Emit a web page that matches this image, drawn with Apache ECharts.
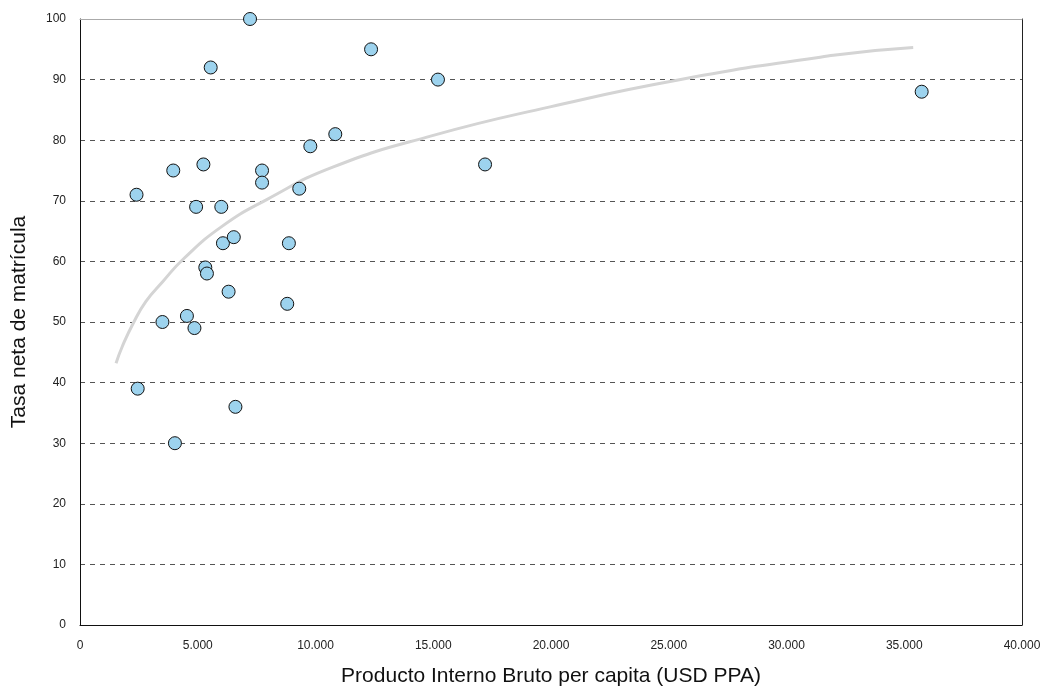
<!DOCTYPE html>
<html>
<head>
<meta charset="utf-8">
<script src="https://cdn.jsdelivr.net/npm/echarts@6/dist/echarts.min.js"></script>
<style>html,body{margin:0;padding:0;background:#fff}#c{width:1040px;height:690px}</style>
</head>
<body>
<div id="c"></div>
<script>
// GDP per capita (USD PPA) and net enrolment rate
const gdp = [2400, 2450, 3500, 3960, 4030, 4540, 4860, 4930, 5240, 5320, 5390, 5550, 6000, 6070, 6310, 6530, 6600, 7220, 7730, 7730, 8800, 8870, 9310, 9780, 10840, 12360, 15200, 17200, 35740];
const enrol = [71, 39, 50, 75, 30, 51, 49, 69, 76, 59, 58, 92, 69, 63, 55, 64, 36, 100, 75, 73, 53, 63, 72, 79, 81, 95, 90, 76, 88];
// trend curve
const trendX = [1530, 1800, 2260, 2800, 3500, 4390, 6000, 7930, 10760, 15000, 19960, 25340, 31990, 35380];
const trendY = [43.2, 46.0, 49.8, 53.4, 56.6, 60.4, 65.7, 70.2, 75.6, 80.8, 85.5, 89.9, 94.0, 95.3];
const yTicks = [0, 10, 20, 30, 40, 50, 60, 70, 80, 90, 100];

const fmt = v => String(v).replace(/\B(?=(\d{3})+(?!\d))/g, '.');
const tickFont = '"Liberation Sans", Arial, sans-serif';
const titleFont = '"Liberation Sans", Arial, sans-serif';

const chart = echarts.init(document.getElementById('c'), null, {renderer: 'canvas'});
const splitColors = yTicks.map((t, i) => (i === 0 || i === yTicks.length - 1) ? 'rgba(0,0,0,0)' : '#555');

chart.setOption({
  animation: false,
  backgroundColor: '#fff',
  grid: {left: 80, right: 18, top: 19, bottom: 65, containLabel: false, outerBoundsMode: 'none'},
  xAxis: [{
    type: 'value', min: 0, max: 40000, interval: 5000, position: 'bottom',
    name: 'Producto Interno Bruto per capita (USD PPA)', nameLocation: 'middle', nameGap: 41,
    nameTextStyle: {fontFamily: titleFont, fontSize: 21, color: '#111'},
    axisLine: {show: true, lineStyle: {color: '#111', width: 1}},
    axisTick: {show: false},
    axisLabel: {formatter: fmt, fontFamily: tickFont, fontSize: 12, color: '#222', margin: 15},
    splitLine: {show: false}
  }, {
    type: 'value', min: 0, max: 40000, interval: 5000, position: 'top',
    axisLine: {show: true, onZero: false, lineStyle: {color: '#aaa', width: 1}},
    axisTick: {show: false}, axisLabel: {show: false}, splitLine: {show: false}
  }],
  yAxis: [{
    type: 'value', min: 0, max: 100, interval: 10, position: 'left',
    name: 'Tasa neta de matrícula', nameLocation: 'middle', nameGap: 50,
    nameTextStyle: {fontFamily: titleFont, fontSize: 21, color: '#111'},
    axisLine: {show: true, lineStyle: {color: '#111', width: 1}},
    axisTick: {show: false},
    axisLabel: {fontFamily: tickFont, fontSize: 12, color: '#222', margin: 14},
    splitLine: {show: true, lineStyle: {color: splitColors, type: [5, 5], width: 1}}
  }, {
    type: 'value', min: 0, max: 100, interval: 10, position: 'right',
    axisLine: {show: true, onZero: false, lineStyle: {color: '#222', width: 1}},
    axisTick: {show: false}, axisLabel: {show: false}, splitLine: {show: false}
  }],
  series: [{
    type: 'line',
    data: trendX.map((x, i) => [x, trendY[i]]),
    smooth: 0.5, showSymbol: false, symbol: 'none',
    lineStyle: {color: '#d4d4d4', width: 3},
    z: 2
  }, {
    type: 'scatter',
    data: gdp.map((x, i) => [x, enrol[i]]),
    symbol: 'circle', symbolSize: 13,
    itemStyle: {color: '#9dd3ee', borderColor: '#111', borderWidth: 1, opacity: 1},
    z: 3
  }]
});
</script>
</body>
</html>
